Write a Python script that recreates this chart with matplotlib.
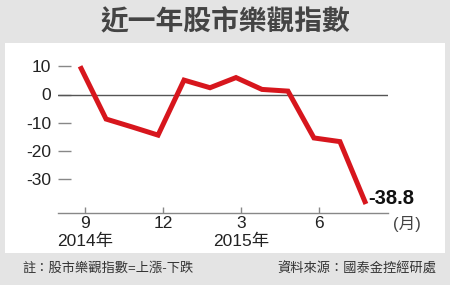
import matplotlib.pyplot as plt
from matplotlib.patches import Rectangle

plt.rcParams['font.family'] = ['Liberation Sans', 'Noto Sans CJK TC', 'DejaVu Sans']

# 資料：2014年9月 ~ 2015年8月
months = ['2014-09', '2014-10', '2014-11', '2014-12', '2015-01', '2015-02',
          '2015-03', '2015-04', '2015-05', '2015-06', '2015-07', '2015-08']
index_values = [10.0, -8.7, -11.5, -14.4, 5.1, 2.4, 6.0, 1.8, 1.2, -15.4, -16.7, -38.8]
y_ticks = [10, 0, -10, -20, -30]
x_tick_idx = [0, 3, 6, 9]
x_tick_labels = ['9\n2014年', '12', '3\n2015年', '6']

W, H = 450, 285
fig = plt.figure(figsize=(W / 100, H / 100), dpi=100)
fig.patch.set_facecolor('#e4e4e4')

# 白色面板
fig.add_artist(Rectangle((5 / W, 1 - 253 / H), 440 / W, 210 / H,
                         transform=fig.transFigure, facecolor='white',
                         edgecolor='none', zorder=0))

fig.text(0.5, 1 - 22 / H, '近一年股市樂觀指數', ha='center', va='center',
         fontsize=20, fontweight='bold', color='#444444')

ax = fig.add_axes([58 / W, 1 - 213 / H, 330 / W, 158 / H])
ax.set_facecolor('none')
x = list(range(len(months)))
ax.plot(x, index_values, color='#d7161d', lw=3.6, solid_joinstyle='miter',
        solid_capstyle='butt', zorder=3)
ax.axhline(0, color='#555555', lw=1, zorder=2)

ax.set_xlim(-0.85, 11.85)
ax.set_ylim(-42, 14)

for s in ['left', 'right', 'top']:
    ax.spines[s].set_visible(False)
ax.spines['bottom'].set_color('#888888')
ax.spines['bottom'].set_linewidth(1)

ax.set_yticks(y_ticks)
ax.set_yticklabels([str(v) for v in y_ticks])
ax.tick_params(axis='y', direction='in', length=9.5, width=1, color='#888888',
               pad=5, labelsize=12.5, labelcolor='#222222')

ax.set_xticks([i + 0.2 for i in x_tick_idx])
ax.set_xticklabels(x_tick_labels)
ax.tick_params(axis='x', direction='in', length=4.5, width=1, color='#888888',
               pad=2, labelsize=12.5, labelcolor='#222222')
for lab in ax.get_xticklabels():
    lab.set_linespacing(1.2)
    lab.set_verticalalignment('top')

ax.annotate('%.1f' % index_values[-1], (x[-1], index_values[-1]),
            xytext=(2, 4), textcoords='offset points', ha='left', va='center',
            fontsize=14.5, fontweight='bold', color='#111111')

fig.text(407 / W, 1 - 224 / H, '(月)', ha='center', va='center',
         fontsize=12, color='#444444')

fig.text(22 / W, 1 - 269 / H, '註：股市樂觀指數=上漲-下跌', ha='left', va='center',
         fontsize=9.5, color='#333333')
fig.text(436 / W, 1 - 269 / H, '資料來源：國泰金控經研處', ha='right', va='center',
         fontsize=9.5, color='#333333')

fig.savefig('out.png', dpi=100, facecolor=fig.get_facecolor())
